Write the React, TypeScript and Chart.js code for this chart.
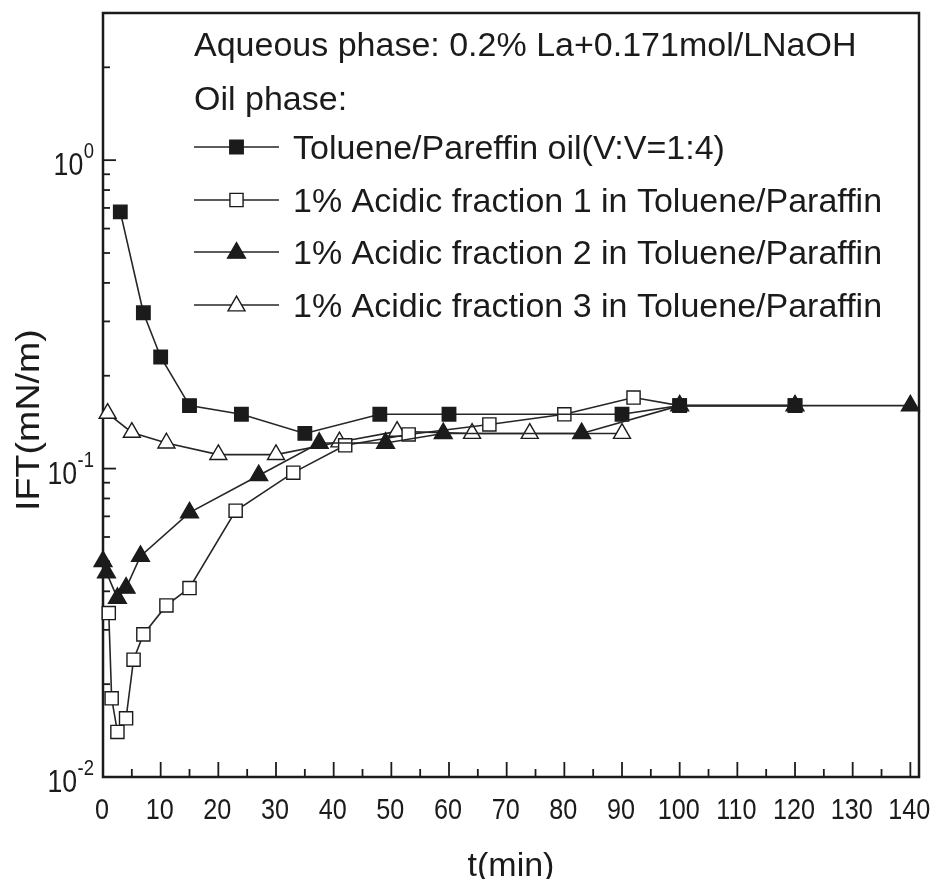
import React, { useEffect, useRef } from 'react';
import { Chart, registerables } from 'chart.js';

Chart.register(...registerables);

// ---------- data ----------
const tolueneT = [3, 7, 10, 15, 24, 35, 48, 60, 90, 100, 120];
const tolueneIFT = [0.68, 0.32, 0.23, 0.16, 0.15, 0.13, 0.15, 0.15, 0.15, 0.16, 0.16];

const frac1T = [1, 1.5, 2.5, 4, 5.3, 7, 11, 15, 23, 33, 42, 53, 67, 80, 92, 100, 120];
const frac1IFT = [0.034, 0.018, 0.014, 0.0155, 0.024, 0.029, 0.036, 0.041, 0.073, 0.097, 0.119, 0.129, 0.139, 0.15, 0.17, 0.16, 0.16];

const frac2T = [0, 0.6, 2.5, 4, 6.5, 15, 27, 37.5, 49, 59, 83, 100, 120, 140];
const frac2IFT = [0.05, 0.046, 0.038, 0.041, 0.052, 0.072, 0.095, 0.121, 0.121, 0.13, 0.13, 0.16, 0.16, 0.16];

const frac3T = [0.8, 5, 11, 20, 30, 41, 51, 64, 74, 90];
const frac3IFT = [0.151, 0.131, 0.121, 0.111, 0.111, 0.122, 0.132, 0.13, 0.13, 0.13];

const seriesNames = [
  'Toluene/Pareffin oil(V:V=1:4)',
  '1% Acidic fraction 1 in Toluene/Paraffin',
  '1% Acidic fraction 2 in Toluene/Paraffin',
  '1% Acidic fraction 3 in Toluene/Paraffin',
];
const legendHeader = ['Aqueous phase: 0.2% La+0.171mol/LNaOH', 'Oil phase:'];

const xMajorTicks = [0, 10, 20, 30, 40, 50, 60, 70, 80, 90, 100, 110, 120, 130, 140];
const xMinorTicks = [5, 15, 25, 35, 45, 55, 65, 75, 85, 95, 105, 115, 125, 135];
const yDecades = [0.01, 0.1, 1];
const yExponents = ['-2', '-1', '0'];
const yMinorMultipliers = [2, 3, 4, 5, 6, 7, 8, 9];

const xTitle = 't(min)';
const yTitle = 'IFT(mN/m)';

// ---------- styles ----------
const INK = '#1b1b1b';
const LINE = '#262626';
const FONT = "'Liberation Sans', Arial, Helvetica, sans-serif";

type Mk = { style: 'rect' | 'triangle'; filled: boolean; r: number };
const markers: Mk[] = [
  { style: 'rect', filled: true, r: 9.5 },
  { style: 'rect', filled: false, r: 9.3 },
  { style: 'triangle', filled: true, r: 10.3 },
  { style: 'triangle', filled: false, r: 9.8 },
];

function drawMarker(ctx: CanvasRenderingContext2D, m: Mk, x: number, y: number) {
  ctx.beginPath();
  if (m.style === 'rect') {
    const s = m.r * Math.SQRT1_2;
    ctx.rect(x - s, y - s, 2 * s, 2 * s);
  } else {
    ctx.moveTo(x, y - m.r);
    ctx.lineTo(x + 0.866 * m.r, y + 0.5 * m.r);
    ctx.lineTo(x - 0.866 * m.r, y + 0.5 * m.r);
    ctx.closePath();
  }
  ctx.fillStyle = m.filled ? INK : '#ffffff';
  ctx.fill();
  ctx.strokeStyle = INK;
  ctx.lineWidth = 1.4;
  ctx.stroke();
}

function scaledText(
  ctx: CanvasRenderingContext2D,
  text: string,
  x: number,
  y: number,
  sx: number,
  align: CanvasTextAlign
) {
  ctx.save();
  ctx.translate(x, y);
  ctx.scale(sx, 1);
  ctx.textAlign = align;
  ctx.textBaseline = 'alphabetic';
  ctx.fillText(text, 0, 0);
  ctx.restore();
}

const framePlugin = {
  id: 'frameTicks',
  beforeDatasetsDraw(chart: any) {
    const { ctx, chartArea: a, scales } = chart;
    const xs = scales.x;
    const ys = scales.y;
    ctx.save();
    ctx.strokeStyle = INK;
    ctx.lineWidth = 2.5;
    ctx.strokeRect(a.left, a.top, a.right - a.left, a.bottom - a.top);
    ctx.lineWidth = 1.8;
    const tick = (x1: number, y1: number, x2: number, y2: number) => {
      ctx.beginPath();
      ctx.moveTo(x1, y1);
      ctx.lineTo(x2, y2);
      ctx.stroke();
    };
    xMajorTicks.forEach((v) => {
      const px = xs.getPixelForValue(v);
      tick(px, a.bottom, px, a.bottom - 15);
    });
    xMinorTicks.forEach((v) => {
      const px = xs.getPixelForValue(v);
      tick(px, a.bottom, px, a.bottom - 8);
    });
    yDecades.forEach((d) => {
      const py = ys.getPixelForValue(d);
      tick(a.left, py, a.left + 13, py);
      yMinorMultipliers.forEach((m) => {
        const v = m * d;
        if (v < ys.max) {
          const p = ys.getPixelForValue(v);
          tick(a.left, p, a.left + 7, p);
        }
      });
    });
    ctx.restore();
  },
  afterDraw(chart: any) {
    const { ctx, chartArea: a, scales } = chart;
    const xs = scales.x;
    const ys = scales.y;
    ctx.save();
    ctx.fillStyle = INK;

    // x tick labels
    ctx.font = `30px ${FONT}`;
    xMajorTicks.forEach((v) => {
      const px = xs.getPixelForValue(v);
      scaledText(ctx, String(v), px - 1, 819, 0.84, 'center');
    });

    // y tick labels 10^n
    yDecades.forEach((d, i) => {
      const py = ys.getPixelForValue(d);
      const right = 94;
      ctx.font = `22px ${FONT}`;
      const supW = ctx.measureText(yExponents[i]).width * 0.84;
      scaledText(ctx, yExponents[i], right, py - 2, 0.84, 'right');
      ctx.font = `31px ${FONT}`;
      scaledText(ctx, '10', right - supW - 0.5, py + 15, 0.86, 'right');
    });

    // axis titles
    ctx.font = `34px ${FONT}`;
    scaledText(ctx, xTitle, (a.left + a.right) / 2, 876, 1, 'center');

    ctx.save();
    ctx.translate(39, 420);
    ctx.rotate(-Math.PI / 2);
    ctx.scale(1.14, 1);
    ctx.font = `33px ${FONT}`;
    ctx.textAlign = 'center';
    ctx.textBaseline = 'alphabetic';
    ctx.fillText(yTitle, 0, 0);
    ctx.restore();

    // legend
    ctx.font = `34px ${FONT}`;
    ctx.textAlign = 'left';
    ctx.textBaseline = 'alphabetic';
    ctx.fillStyle = INK;
    ctx.fillText(legendHeader[0], 194, 56);
    ctx.fillText(legendHeader[1], 194, 110);
    const rowY = [147, 200, 252, 305];
    seriesNames.forEach((name, i) => {
      const y = rowY[i];
      ctx.strokeStyle = LINE;
      ctx.lineWidth = 1.6;
      ctx.beginPath();
      ctx.moveTo(194, y);
      ctx.lineTo(279, y);
      ctx.stroke();
      drawMarker(ctx, markers[i], 236.5, i >= 2 ? y + 1 : y);
      ctx.fillStyle = INK;
      ctx.fillText(name, 293, y + 12);
    });
    ctx.restore();
  },
};

function makeDataset(label: string, xsArr: number[], ysArr: number[], m: Mk, order: number) {
  return {
    label,
    data: xsArr.map((x, i) => ({ x, y: ysArr[i] })),
    showLine: true,
    borderColor: LINE,
    borderWidth: 1.6,
    pointStyle: m.style,
    pointRadius: m.r,
    pointHoverRadius: m.r,
    pointBackgroundColor: m.filled ? INK : '#ffffff',
    pointBorderColor: INK,
    pointBorderWidth: 1.4,
    clip: false as any,
    order,
    tension: 0,
  };
}

export default function App() {
  const ref = useRef<HTMLCanvasElement | null>(null);
  useEffect(() => {
    if (!ref.current) return;
    const chart = new Chart(ref.current, {
      type: 'scatter',
      data: {
        datasets: [
          makeDataset(seriesNames[0], tolueneT, tolueneIFT, markers[0], 1),
          makeDataset(seriesNames[1], frac1T, frac1IFT, markers[1], 2),
          makeDataset(seriesNames[2], frac2T, frac2IFT, markers[2], 0),
          makeDataset(seriesNames[3], frac3T, frac3IFT, markers[3], 3),
        ] as any,
      },
      options: {
        responsive: false,
        animation: false,
        devicePixelRatio: 1,
        layout: { padding: { left: 103, right: 14, top: 13, bottom: 102 } },
        scales: {
          x: { type: 'linear', min: 0, max: 141.5, display: false },
          y: { type: 'logarithmic', min: 0.01, max: 3, display: false },
        },
        plugins: {
          legend: { display: false },
          tooltip: { enabled: false },
        },
        events: [],
      },
      plugins: [framePlugin],
    });
    return () => chart.destroy();
  }, []);
  return (
    <div style={{ position: 'absolute', left: 0, top: 0, width: 933, height: 879, background: '#fff' }}>
      <canvas ref={ref} width={933} height={879} />
    </div>
  );
}
